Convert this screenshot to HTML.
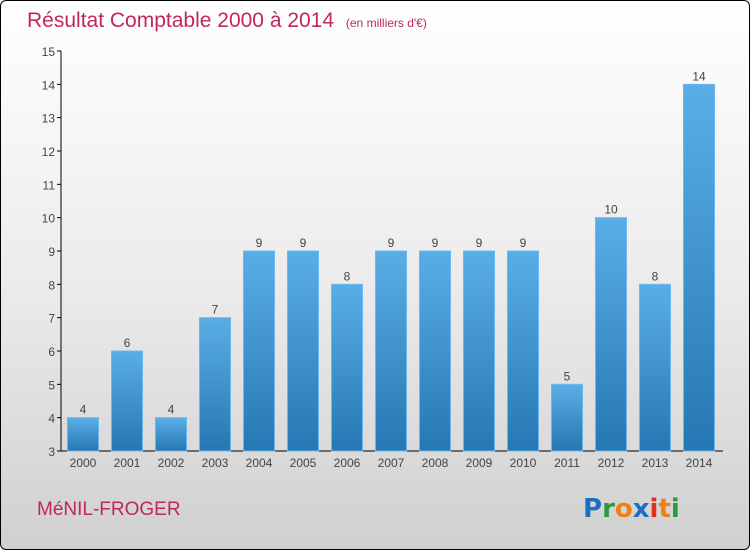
<!DOCTYPE html>
<html><head><meta charset="utf-8"><style>
body{margin:0}
#w{position:relative;width:748px;height:548px;border:1px solid #000;border-radius:6px;overflow:hidden;background:linear-gradient(#ffffff 0%,#ececec 50%,#d0d0d0 100%);font-family:"Liberation Sans",sans-serif}
</style></head><body>
<div id="w">
<svg width="748" height="548" xmlns="http://www.w3.org/2000/svg" id="svg">
<defs><linearGradient id="bg" x1="0" y1="0" x2="0" y2="1"><stop offset="0" stop-color="#5aaee6"/><stop offset="1" stop-color="#2677b3"/></linearGradient></defs>
<text x="26" y="26" font-size="21" fill="#c0285a">Résultat Comptable 2000 à 2014 <tspan font-size="12" dx="6">(en milliers d'€)</tspan></text>
<text x="36" y="514" font-size="19" fill="#c0285a">MéNIL-FROGER</text>
<g font-size="26" font-weight="bold" font-family="'DejaVu Sans',sans-serif">
<text x="582" y="516"><tspan fill="#1a6fc0">P</tspan><tspan fill="#2a9a3a">r</tspan><tspan fill="#f08010">o</tspan><tspan fill="#1a6fc0">x</tspan><tspan fill="#e03020">i</tspan><tspan fill="#f08010">t</tspan><tspan fill="#2a9a3a">i</tspan></text></g>
<g id="plot"></g>
</svg></div>
<script>
const years=["2000","2001","2002","2003","2004","2005","2006","2007","2008","2009","2010","2011","2012","2013","2014"];
const values=[4,6,4,7,9,9,8,9,9,9,9,5,10,8,14];
const yTicks=[3,4,5,6,7,8,9,10,11,12,13,14,15];
const NS="http://www.w3.org/2000/svg";
const g=document.getElementById('plot');
const y=v=>450-(v-3)*(400/12);
const x=i=>82+i*44;
function mk(t,a){const e=document.createElementNS(NS,t);for(const k in a)e.setAttribute(k,a[k]);g.appendChild(e);return e;}
let ax=mk('line',{x1:60,y1:50,x2:60,y2:450,stroke:'#000'});


let bx=mk('line',{x1:60,y1:450,x2:722,y2:450,stroke:'#000'});


yTicks.forEach(v=>{
 let t=mk('line',{x1:56,y1:y(v),x2:60,y2:y(v),stroke:'#000'});
 
 
 let l=mk('text',{x:54,y:y(v)+5,'text-anchor':'end','font-size':12,fill:'#444'});
 l.textContent=v;
 
 
});
years.forEach((yr,i)=>{
 let b=mk('rect',{x:x(i)-15.5,y:y(values[i]),width:31,height:450-y(values[i]),fill:'url(#bg)',stroke:'#6bb8ec','stroke-width':1});
 
 
 let v=mk('text',{x:x(i),y:y(values[i])-4,'text-anchor':'middle','font-size':12,fill:'#444'});
 v.textContent=values[i];
 
 
 let l=mk('text',{x:x(i),y:466,'text-anchor':'middle','font-size':12,fill:'#444'});
 l.textContent=yr;
 
 
});
</script>
</body></html>
